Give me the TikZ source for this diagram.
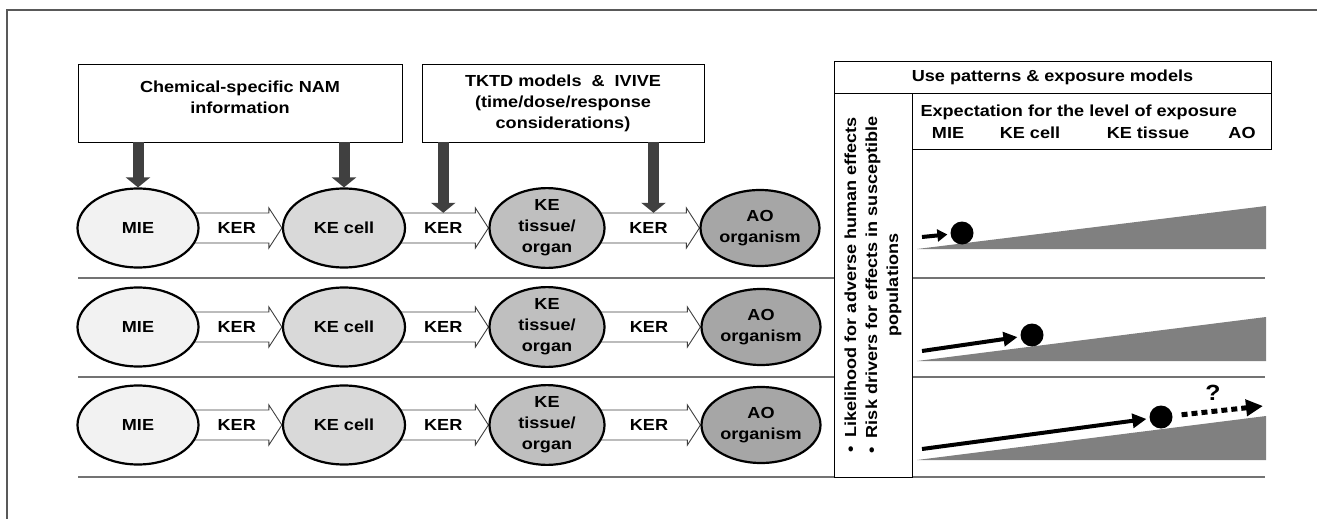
\documentclass[tikz,border=0pt]{standalone}
\usepackage{fontspec}
\setmainfont{Liberation Sans}[FakeStretch=1.13]
\usetikzlibrary{shapes.geometric,arrows.meta,backgrounds,calc}
\definecolor{mieGray}{HTML}{F2F2F2}
\definecolor{cellGray}{HTML}{D9D9D9}
\definecolor{tissueGray}{HTML}{BFBFBF}
\definecolor{aoGray}{HTML}{A6A6A6}
\definecolor{feedGray}{HTML}{404040}
\definecolor{rampGray}{HTML}{808080}

% block arrow between two events: from, to, name of its label
\newcommand\kerarrow[3]{%
  \begin{scope}[on background layer]
    \draw[kerline] ([shift={(-8,-15)}]#1.east) -- ([shift={(-13,-15)}]#2.west)
      -- ([shift={(-13,-20)}]#2.west) -- (#2.west) -- ([shift={(-13,20)}]#2.west)
      -- ([shift={(-13,15)}]#2.west) -- ([shift={(-8,15)}]#1.east) -- cycle;
  \end{scope}
  \node[kertext] (#3) at ($(#1.east)!0.5!(#2.west) + (-4,0)$) {KER};
}

\begin{document}
\begin{tikzpicture}[x=1pt, y=-1pt,
  font=\bfseries\fontsize{16}{21}\selectfont,
  event/.style={draw, ellipse, line width=2.2pt, inner sep=0pt, align=center},
  mie/.style={event, fill=mieGray, minimum width=121pt, minimum height=79pt},
  cell/.style={event, fill=cellGray, minimum width=122pt, minimum height=79pt},
  tissue/.style={event, fill=tissueGray, minimum width=115pt, minimum height=75pt},
  ao/.style={event, fill=aoGray, minimum width=119pt, minimum height=76pt},
  kerline/.style={draw=black!75, fill=white, line width=0.9pt, line join=miter},
  kertext/.style={minimum height=30pt, inner sep=0pt},
  infobox/.style={draw, line width=0.9pt, align=center, fill=white},
  feed/.style={feedGray, line width=11pt, -{Triangle[width=24pt,length=10pt]}},
  sep/.style={black!55, line width=1.5pt},
  move/.style={line width=4pt, -{Triangle[width=14pt,length=14pt]}, shorten >=3pt},
  level/.style={circle, fill=black, minimum size=23pt, inner sep=0pt}]

\useasboundingbox (0,0) rectangle (1317,519);
\draw[black!65, line width=2pt] (1317,10) -- (7,10) -- (7,519);

% row separators
\draw[sep] (78,278) -- (1265,278);
\draw[sep] (78,377) -- (1265,377);
\draw[sep] (78,477) -- (1265,477);

% info boxes
\node[infobox, minimum width=324pt, minimum height=78pt] (NAM) at (240,103) {Chemical-specific NAM\\information\\[-9pt]};
\node[infobox, minimum width=282pt, minimum height=78pt] (TKTD) at (563,103) {TKTD models\ \ \&\ \ IVIVE\\(time/dose/response\\considerations)};

% AOP rows
\node[mie] (M1) at (138,228) {MIE};
\node[cell] (C1) at (344,228) {KE cell};
\node[tissue] (T1) at (547,228) {KE\\tissue/\\organ};
\node[ao] (A1) at (760,228) {AO\\organism};

\node[mie] (M2) at (138,327) {MIE};
\node[cell] (C2) at (344,327) {KE cell};
\node[tissue] (T2) at (547,327) {KE\\tissue/\\organ};
\node[ao] (A2) at (761,327) {AO\\organism};

\node[mie] (M3) at (138,425) {MIE};
\node[cell] (C3) at (344,425) {KE cell};
\node[tissue] (T3) at (547,425) {KE\\tissue/\\organ};
\node[ao] (A3) at (761,425) {AO\\organism};

\kerarrow{M1}{C1}{K11} \kerarrow{C1}{T1}{K12} \kerarrow{T1}{A1}{K13}
\kerarrow{M2}{C2}{K21} \kerarrow{C2}{T2}{K22} \kerarrow{T2}{A2}{K23}
\kerarrow{M3}{C3}{K31} \kerarrow{C3}{T3}{K32} \kerarrow{T3}{A3}{K33}

\draw[feed] (NAM.south -| M1) -- (M1.north);
\draw[feed] (NAM.south -| C1) -- (C1.north);
\draw[feed] (TKTD.south -| K12) -- (K12.north);
\draw[feed] ([xshift=5pt]TKTD.south -| K13) -- ([xshift=5pt]K13.north);

% exposure panel
\node[infobox, minimum width=437pt, minimum height=32pt] (USE) at (1052.5,77) {Use patterns \& exposure models};
\node[infobox, rotate=90, minimum width=384pt, minimum height=78pt] (RISK) at (873,285)
  {\textbullet\hspace{9pt}Likelihood for adverse human effects\\\textbullet\hspace{9pt}Risk drivers for effects in susceptible\\populations};
\node[infobox, minimum width=359pt, minimum height=56pt] (EXP) at (1091.5,121) {};
\node[anchor=west] (EXPT) at (917,112) {Expectation for the level of exposure};
\node (LMIE) at (948,133) {MIE};
\node (LCELL) at (1030,133) {KE cell};
\node (LTIS) at (1148,133) {KE tissue};
\node (LAO) at (1242,133) {AO};

\fill[rampGray] (917,249) -- (1266,206) -- (1266,249) -- cycle;
\fill[rampGray] (917,361) -- (1266,317) -- (1266,361) -- cycle;
\fill[rampGray] (917,460) -- (1266,416) -- (1266,460) -- cycle;

\node[level] (D1) at (962,233) {};
\node[level] (D2) at (1032,335) {};
\node[level] (D3) at (1161,417) {};
\coordinate (S1) at (922,237);
\coordinate (S2) at (922,351);
\coordinate (S3) at (922,449);
\coordinate (Q) at (1263,406);

\draw[move, -{Triangle[width=12pt,length=10pt]}] (S1) -- (D1);
\draw[move] (S2) -- (D2);
\draw[move] (S3) -- (D3);
\draw[line width=5pt, dash pattern=on 6pt off 4pt, shorten <=9pt,
  -{Triangle[width=16pt,length=17pt]}] (D3) -- (Q);
\node[font=\bfseries\fontsize{22}{22}\selectfont] (QM) at (1213,393) {?};
\end{tikzpicture}
\end{document}
